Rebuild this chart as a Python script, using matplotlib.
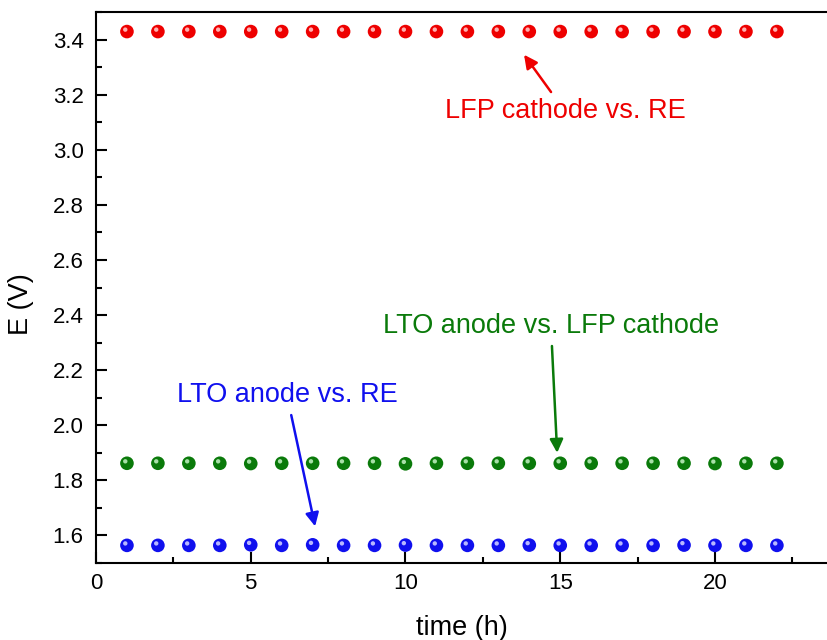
import matplotlib.pyplot as plt
from matplotlib.ticker import MultipleLocator
from matplotlib.transforms import offset_copy

plt.rcParams['font.family'] = ['Liberation Sans', 'DejaVu Sans']

time_h = list(range(1, 23))
lfp_vs_re = [3.429] * 22
lto_vs_lfp = [1.862, 1.862, 1.862, 1.862, 1.861, 1.862, 1.862, 1.862, 1.862, 1.860, 1.862,
              1.862, 1.862, 1.862, 1.862, 1.862, 1.862, 1.862, 1.862, 1.861, 1.862, 1.862]
lto_vs_re = [1.564, 1.564, 1.564, 1.564, 1.566, 1.564, 1.566, 1.564, 1.564, 1.565, 1.564,
             1.564, 1.564, 1.565, 1.564, 1.564, 1.564, 1.564, 1.565, 1.564, 1.564, 1.564]

series = [
    (lfp_vs_re, '#ee0000', '#ffb0b0'),
    (lto_vs_lfp, '#0a7a0a', '#a8e0a8'),
    (lto_vs_re, '#1010ee', '#b8b8ff'),
]

fig = plt.figure(figsize=(8.28, 6.4), dpi=100)
# axes run past the right edge of the figure, like the cropped original
ax = fig.add_axes([96 / 828, 1 - 563 / 640, (828 - 96) / 828, (563 - 12) / 640])

for y, col, hi in series:
    ax.scatter(time_h, y, s=96, color=col, edgecolors='none', zorder=3, clip_on=False)
    tr = offset_copy(ax.transData, fig=fig, x=-1.2, y=1.4, units='points')
    ax.scatter(time_h, y, s=10, color=hi, edgecolors='none', zorder=4, transform=tr, clip_on=False)

ax.set_xlim(0, (828 - 96) / 30.95)
ax.set_ylim(1.5, 3.5)
ax.spines['right'].set_visible(False)
ax.xaxis.set_major_locator(MultipleLocator(5))
ax.xaxis.set_minor_locator(MultipleLocator(2.5))
ax.yaxis.set_major_locator(MultipleLocator(0.2))
ax.yaxis.set_minor_locator(MultipleLocator(0.1))
ax.tick_params(which='both', direction='in', width=1.5, labelsize=16, top=False, right=False)
ax.tick_params(which='major', length=8)
ax.tick_params(axis='y', which='major', pad=9)
ax.tick_params(axis='x', which='major', pad=7)
ax.tick_params(which='minor', length=4.5)
for sp in ax.spines.values():
    sp.set_linewidth(1.5)

ax.set_xlabel('time (h)', fontsize=19.5, labelpad=15)
ax.set_ylabel('E (V)', fontsize=19.5)
ax.yaxis.set_label_coords(-0.085, 0.47)

arrow = dict(arrowstyle='-|>', lw=1.8, mutation_scale=20, shrinkA=3, shrinkB=0)

ax.annotate('LFP cathode vs. RE', xy=(13.83, 3.345), xytext=(15.15, 3.14),
            color='#ee0000', fontsize=19.5, ha='center', va='center',
            arrowprops=dict(arrow, color='#ee0000'))
ax.annotate('LTO anode vs. LFP cathode', xy=(14.9, 1.90), xytext=(14.7, 2.36),
            color='#0a7a0a', fontsize=19.5, ha='center', va='center',
            arrowprops=dict(arrow, color='#0a7a0a'))
ax.annotate('LTO anode vs. RE', xy=(7.08, 1.633), xytext=(6.17, 2.109),
            color='#1010ee', fontsize=19.5, ha='center', va='center',
            arrowprops=dict(arrow, color='#1010ee'))

fig.savefig('out.png', dpi=100)
